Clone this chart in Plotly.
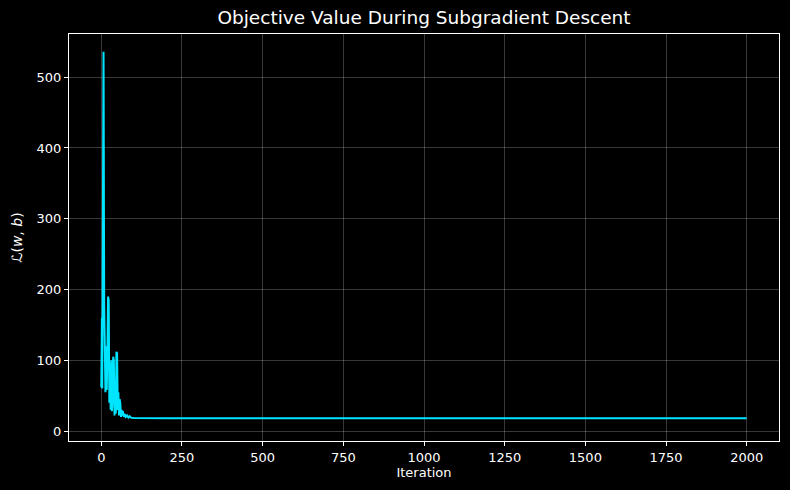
import plotly.graph_objects as go

# Objective value samples (iteration, value)
iterations = [0, 2, 3, 5, 7, 9, 11, 13, 15, 17, 19, 21, 23, 25, 27, 29, 31, 33, 35,
              37, 39, 41, 43, 45, 47, 49, 51, 53, 55, 57, 59, 61, 63, 65, 67, 70,
              73, 76, 80, 84, 88, 92, 100, 120, 150, 200, 250, 300, 350, 400, 460,
              500, 550, 600, 650, 700, 750, 800, 850, 900, 950, 1000, 1050, 1100,
              1150, 1200, 1250, 1300, 1350, 1400, 1450, 1500, 1550, 1590, 1650,
              1700, 1750, 1800, 1850, 1900, 1950, 2000]
objective = [62, 160, 60, 300, 536, 180, 80, 55, 120, 58, 110, 190, 185, 40, 95, 30,
             100, 28, 45, 105, 100, 22, 60, 25, 112, 110, 30, 55, 22, 45, 40, 20, 30,
             22, 28, 20, 24, 20, 22, 19, 21, 19, 18.5, 18.3, 18.2, 18.2, 18.1, 18.1,
             18.1, 18.1, 18.6, 18.1, 18.1, 18.3, 18.1, 18.1, 18.1, 18.1, 18.1, 18.1,
             18.1, 18.1, 18.1, 18.8, 18.1, 18.1, 18.1, 18.1, 18.1, 18.1, 18.1, 18.1,
             18.1, 18.5, 18.1, 18.1, 18.1, 18.1, 18.3, 18.1, 18.1, 18.1]

x_ticks = [0, 250, 500, 750, 1000, 1250, 1500, 1750, 2000]
y_ticks = [0, 100, 200, 300, 400, 500]

fig = go.Figure()
fig.add_trace(go.Scatter(
    x=iterations, y=objective, mode="lines",
    line=dict(color="#00e5ff", width=2),
    showlegend=False,
))

axis_common = dict(
    showline=True, linecolor="white", linewidth=1, mirror=True,
    ticks="outside", ticklen=4, tickcolor="white", tickwidth=1,
    showgrid=True, gridcolor="rgba(255,255,255,0.22)", gridwidth=1,
    zeroline=False, automargin=False,
    tickfont=dict(family="DejaVu Sans", size=13, color="white"),
)

fig.update_layout(
    width=790, height=490,
    paper_bgcolor="black", plot_bgcolor="black",
    margin=dict(l=69, r=11, t=34, b=49),
    title=dict(text="Objective Value During Subgradient Descent",
               x=0.5, xanchor="center", xref="paper",
               y=1 - 18 / 490, yanchor="middle",
               font=dict(family="DejaVu Sans", size=18.5, color="white")),
    xaxis=dict(range=[-100, 2100], tickvals=x_ticks,
               title=dict(text="Iteration", standoff=4,
                          font=dict(family="DejaVu Sans", size=13, color="white")),
               **axis_common),
    yaxis=dict(range=[-14, 561], tickvals=y_ticks,
               title=dict(text="<i>ℒ</i>(<i>w</i>, <i>b</i>)", standoff=10,
                          font=dict(family="DejaVu Sans", size=14, color="white")),
               **axis_common),
)

fig.write_html(
    "out.html",
    config={"displayModeBar": False},
    post_script="document.body.style.margin='0';document.body.style.overflow='hidden';"
                "document.body.style.background='black';",
)
